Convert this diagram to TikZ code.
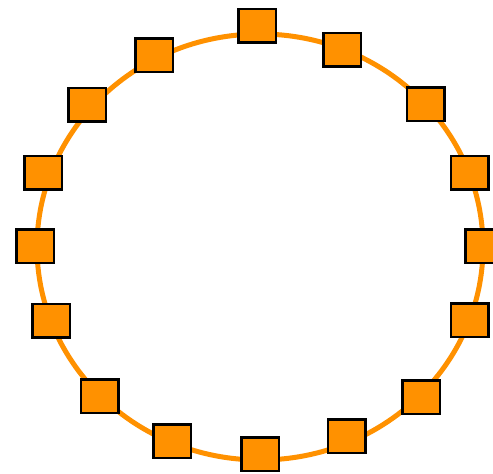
\documentclass[tikz,border=0pt]{standalone}
\usepackage{tikz}
\definecolor{ringorange}{RGB}{255,145,0}

\begin{document}
\begin{tikzpicture}[x=1pt, y=1pt, tile/.style={draw=black, fill=ringorange, line width=2.5pt, inner sep=0pt, minimum width=37.5pt, minimum height=33.5pt}, ring/.style={draw=ringorange, line width=5pt}]
\useasboundingbox (0,0) rectangle (493,474);
\draw[ring] (260,227) ellipse [x radius=223, y radius=213];
\node[tile] (t1) at (257,448) {};
\node[tile] (t2) at (342,424) {};
\node[tile] (t3) at (425.5,369.5) {};
\node[tile] (t4) at (469.5,301) {};
\node[tile] (t5) at (484,227.5) {};
\node[tile] (t6) at (469.5,153.5) {};
\node[tile] (t7) at (421,76.5) {};
\node[tile] (t8) at (346.5,37.5) {};
\node[tile] (t9) at (260,19.5) {};
\node[tile] (t10) at (172,32.5) {};
\node[tile] (t11) at (99.5,77.5) {};
\node[tile] (t12) at (51,153) {};
\node[tile] (t13) at (35,227.5) {};
\node[tile] (t14) at (43,301) {};
\node[tile] (t15) at (87,369) {};
\node[tile] (t16) at (154,418.5) {};
\end{tikzpicture}
\end{document}
